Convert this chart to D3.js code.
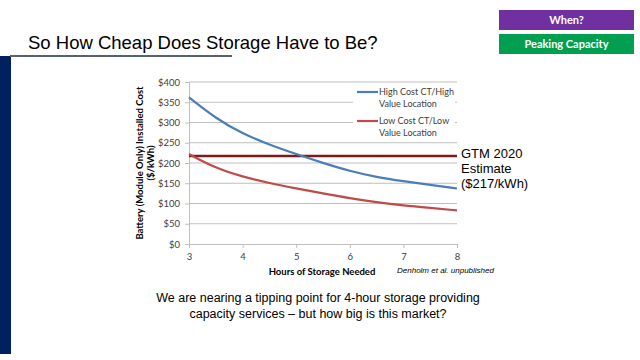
<!DOCTYPE html>
<html><head><meta charset="utf-8">
<script src="https://cdnjs.cloudflare.com/ajax/libs/d3/7.8.5/d3.min.js"></script>
<style>html,body{margin:0;padding:0;background:#fff;}svg{display:block;}</style>
</head><body>
<script>
const hours = [3, 3.5, 4, 4.5, 5, 5.5, 6, 6.5, 7, 7.5, 8];
const highCost = [362, 310, 272, 245, 222, 200, 180, 165, 155, 146, 137];
const lowCost = [222, 187, 166, 150, 137, 125, 113, 103, 95, 89, 83];
const gtmEstimate = 217;
const yTicks = [0, 50, 100, 150, 200, 250, 300, 350, 400];
const xTicks = [3, 4, 5, 6, 7, 8];
const seriesNames = ["High Cost CT/High|Value Location", "Low Cost CT/Low|Value Location"];
const seriesColors = ["#4a7ebb", "#be4b48"];

const W = 640, H = 360;
const svg = d3.select("body").append("svg").attr("width", W).attr("height", H);

// slide decorations
svg.append("rect").attr("x", 0).attr("y", 56).attr("width", 11).attr("height", 298).attr("fill", "#002060");
svg.append("line").attr("x1", 10).attr("x2", 232).attr("y1", 56).attr("y2", 56).attr("stroke", "#556270").attr("stroke-width", 2);
svg.append("text").attr("x", 28).attr("y", 49).attr("font-family", "Liberation Sans, Arial, sans-serif")
  .attr("font-size", 18.5).attr("fill", "#000").text("So How Cheap Does Storage Have to Be?");

svg.append("rect").attr("x", 499).attr("y", 10).attr("width", 135).attr("height", 20).attr("fill", "#7030a0");
svg.append("text").attr("x", 566.5).attr("y", 24).attr("text-anchor", "middle").attr("font-family", "Lato, sans-serif")
  .attr("font-weight", "bold").attr("font-size", 11).attr("fill", "#fff").text("When?");
svg.append("rect").attr("x", 499).attr("y", 34).attr("width", 135).attr("height", 20).attr("fill", "#00a050");
svg.append("text").attr("x", 566.5).attr("y", 48).attr("text-anchor", "middle").attr("font-family", "Lato, sans-serif")
  .attr("font-weight", "bold").attr("font-size", 11).attr("fill", "#fff").text("Peaking Capacity");

// chart
const x = d3.scaleLinear().domain([3, 8]).range([189, 457]);
const y = d3.scaleLinear().domain([0, 400]).range([244, 82]);
const tickFont = "Lato, sans-serif";

const grid = svg.append("g");
yTicks.filter(d => d > 0).forEach(t => {
  grid.append("line").attr("x1", x(3)).attr("x2", x(8)).attr("y1", y(t)).attr("y2", y(t))
    .attr("stroke", "#bfbfbf").attr("stroke-width", 1);
});

const yAxis = svg.append("g").attr("transform", `translate(${x(3)},0)`)
  .call(d3.axisLeft(y).tickValues(yTicks).tickSize(4).tickFormat(d => "$" + d));
yAxis.select(".domain").attr("stroke", "#bfbfbf");
yAxis.selectAll(".tick line").attr("stroke", "#bfbfbf");
yAxis.selectAll("text").attr("font-family", tickFont).attr("font-size", 9.5).attr("fill", "#404040").attr("dx", -2);

const xAxis = svg.append("g").attr("transform", `translate(0,${y(0)})`)
  .call(d3.axisBottom(x).tickValues(xTicks).tickSize(4).tickFormat(d3.format("d")));
xAxis.select(".domain").attr("stroke", "#bfbfbf");
xAxis.selectAll(".tick line").attr("stroke", "#bfbfbf");
xAxis.selectAll("text").attr("font-family", tickFont).attr("font-size", 9.5).attr("fill", "#404040").attr("dy", "0.9em");

// legend background
svg.append("rect").attr("x", 353).attr("y", 84).attr("width", 102).attr("height", 56).attr("fill", "#fff");

// GTM line
svg.append("line").attr("x1", x(3)).attr("x2", x(8)).attr("y1", y(gtmEstimate)).attr("y2", y(gtmEstimate))
  .attr("stroke", "#7b1c1c").attr("stroke-width", 2.5);

const line = d3.line().x((d, i) => x(hours[i])).y(d => y(d)).curve(d3.curveBasis);
[highCost, lowCost].forEach((s, k) => {
  svg.append("path").attr("d", line(s)).attr("fill", "none").attr("stroke", seriesColors[k]).attr("stroke-width", 2.2);
});

// legend
seriesNames.forEach((n, k) => {
  const ly = 92 + k * 29;
  svg.append("line").attr("x1", 357).attr("x2", 378).attr("y1", ly).attr("y2", ly)
    .attr("stroke", seriesColors[k]).attr("stroke-width", 2.2);
  const parts = n.split("|");
  parts.forEach((p, j) => {
    svg.append("text").attr("x", 379).attr("y", ly + 3 + j * 12).attr("font-family", tickFont)
      .attr("font-size", 9).attr("fill", "#404040").text(p);
  });
});

// axis titles
const yt = svg.append("text").attr("transform", "translate(143,163) rotate(-90)").attr("text-anchor", "middle")
  .attr("font-family", tickFont).attr("font-weight", "bold").attr("font-size", 9.5).attr("fill", "#000");
yt.append("tspan").attr("x", 0).attr("dy", 0).text("Battery (Module Only)  Installed Cost");
yt.append("tspan").attr("x", 0).attr("dy", 11).text("($/kWh)");

svg.append("text").attr("x", 322).attr("y", 275).attr("text-anchor", "middle").attr("font-family", tickFont)
  .attr("font-weight", "bold").attr("font-size", 9.5).attr("fill", "#000").text("Hours of Storage Needed");
svg.append("text").attr("x", 397).attr("y", 273).attr("font-family", "Liberation Sans, Arial, sans-serif")
  .attr("font-style", "italic").attr("font-size", 8).attr("fill", "#000").text("Denholm et al. unpublished");

// GTM annotation
["GTM 2020", "Estimate", "($217/kWh)"].forEach((t, i) => {
  svg.append("text").attr("x", 461).attr("y", 158 + i * 15).attr("font-family", "Liberation Sans, Arial, sans-serif")
    .attr("font-size", 13).attr("fill", "#000").text(t);
});

// bottom text
["We are nearing a tipping point for 4-hour storage providing", "capacity services \u2013 but how big is this market?"].forEach((t, i) => {
  svg.append("text").attr("x", 318).attr("y", 302 + i * 16).attr("text-anchor", "middle")
    .attr("font-family", "Liberation Sans, Arial, sans-serif").attr("font-size", 12.5).attr("fill", "#000").text(t);
});
</script>
</body></html>
